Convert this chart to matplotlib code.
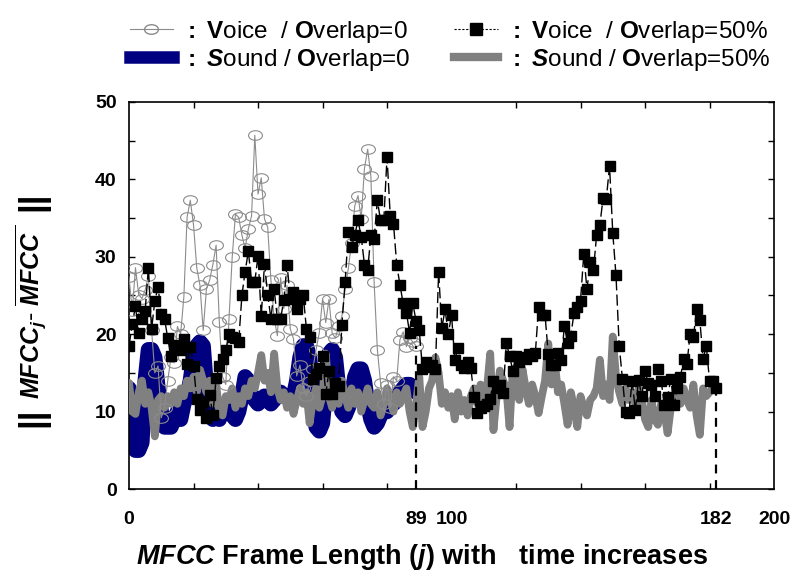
"""
MFCC distance per frame: voice vs sound, overlap 0 / 50%.
Output: out.png
"""
import matplotlib
matplotlib.use("Agg")
import matplotlib.pyplot as plt
from matplotlib.path import Path
from matplotlib.transforms import Affine2D
from matplotlib.lines import Line2D

plt.rcParams["font.family"] = ["Liberation Sans", "DejaVu Sans"]
plt.rcParams["mathtext.fontset"] = "custom"
plt.rcParams["mathtext.rm"] = "Liberation Sans:bold"
plt.rcParams["mathtext.it"] = "Liberation Sans:italic:bold"
plt.rcParams["mathtext.bf"] = "Liberation Sans:bold"
plt.rcParams["mathtext.bfit"] = "Liberation Sans:italic:bold"

# frames 0..89, overlap = 0
voice_ov0 = [
    27.4, 23.0, 28.6, 25.1, 24.6, 25.7, 27.5, 20.5, 15.0, 15.9,
    9.2, 10.5, 14.0, 17.0, 16.3, 21.0, 20.0, 24.8, 35.1, 37.3,
    34.1, 28.6, 26.3, 20.5, 25.8, 27.0, 29.0, 31.5, 21.6, 14.5,
    13.5, 22.0, 30.0, 35.5, 35.1, 32.8, 31.1, 33.6, 35.3, 45.7,
    38.1, 40.2, 34.9, 33.8, 27.0, 22.0, 19.8, 27.3, 23.3, 26.3,
    20.7, 19.4, 14.6, 16.0, 13.0, 12.0, 14.0, 15.5, 18.0, 20.2,
    24.5, 21.5, 24.5, 20.1, 19.5, 21.0, 22.3, 25.9, 28.5, 31.8,
    36.6, 37.9, 34.9, 41.4, 43.9, 40.4, 26.7, 18.0, 13.7, 11.0,
    13.5, 10.5, 14.5, 14.0, 19.3, 20.3, 18.4, 19.5, 19.0, 18.5,
]
sound_ov0 = [
    13, 9, 5, 5, 6, 14, 18, 18, 17, 13,
    10, 8, 8, 8, 9, 10, 9, 11, 12, 14,
    17, 18.5, 19, 18.5, 13, 10, 9, 9.5, 9, 10.5,
    11, 10.5, 9.5, 9, 10, 12, 14.5, 14, 12, 11.5,
    11, 11.5, 12, 11.5, 11, 11.5, 12, 12.5, 12, 12,
    11.5, 12, 14, 17, 18.5, 18.5, 17, 12, 8, 7.5,
    8.5, 13, 17.5, 18, 17, 13, 10, 9.5, 10.5, 12,
    14.5, 15.5, 15.5, 14, 11, 9, 8, 8.5, 9.5, 10.5,
    10, 11, 11, 11.5, 12.5, 13, 13.5, 13.5, 13, 12.5,
]

# frames 0..182, overlap = 50%
voice_ov50 = [
    18.5, 21.3, 23.6, 20.1, 22.0, 23.0, 28.6, 20.7, 24.3, 26.1,
    22.6, 22.0, 19.5, 17.2, 18.6, 18.4, 18.0, 19.4, 16.1, 18.4,
    15.9, 11.6, 10.2, 11.3, 9.2, 12.1, 9.6, 14.3, 15.9, 16.8,
    18.0, 20.0, 19.7, 19.5, 19.0, 25.0, 28.1, 30.7, 26.8, 26.8,
    30.1, 22.3, 29.1, 25.1, 22.0, 25.8, 22.0, 22.0, 24.4, 29.0,
    24.6, 25.5, 23.2, 24.6, 25.1, 20.7, 19.7, 14.2, 14.9, 15.6,
    17.2, 12.3, 15.2, 12.3, 13.7, 13.3, 21.2, 26.7, 33.2, 31.3,
    32.8, 34.7, 32.6, 29.0, 28.3, 32.8, 32.3, 37.3, 34.7, 34.7,
    42.9, 35.3, 34.3, 29.0, 26.4, 24.0, 22.8, 20.2, 24.0, 21.7,
    20.5, 15.5, 16.4, 15.8, 16.0, 15.5, 28.0, 20.8, 23.2, 20.0,
    22.5, 16.7, 18.2, 16.0, 15.6, 16.4, 15.6, 11.9, 9.8, 10.5,
    10.7, 11.0, 11.6, 14.0, 13.0, 13.5, 12.4, 18.9, 17.2, 15.3,
    17.2, 16.4, 17.0, 16.8, 17.4, 17.2, 17.6, 23.5, 22.5, 22.5,
    17.4, 16.0, 16.0, 17.6, 16.7, 21.0, 18.9, 19.8, 22.8, 23.5,
    24.3, 30.3, 25.8, 29.3, 28.3, 32.8, 34.1, 37.6, 37.5, 41.7,
    33.1, 27.6, 18.5, 14.2, 9.9, 9.8, 14.0, 10.2, 14.1, 12.0,
    15.2, 13.7, 13.5, 12.0, 15.5, 14.0, 10.8, 11.9, 14.2, 10.8,
    13.0, 14.5, 16.8, 16.2, 20.0, 19.6, 23.2, 21.8, 16.8, 18.5,
    14.0, 14.0, 13.1,
]
sound_ov50 = [
    13.7, 10, 9.7, 12.5, 14, 11, 12.5, 10.5, 6.8, 11.5,
    12, 10.5, 12, 11, 12.5, 11, 13, 12, 14, 13,
    14.5, 12.5, 15.4, 14, 12.5, 14, 11, 13.5, 10, 9.5,
    12, 11.5, 13, 10.5, 12, 11, 13, 12, 14, 13,
    15, 17.3, 14, 15, 12.5, 17.5, 13, 11.5, 12.5, 10.5,
    12, 9.7, 11.5, 13, 11, 12.5, 8.5, 11.5, 13, 10.5,
    12, 17.5, 12, 10.5, 12.5, 11, 14, 12, 10.5, 13,
    11, 12.5, 10, 11.5, 13, 11, 10.5, 12.5, 9.5, 11,
    13, 11.5, 10, 12.5, 11, 12, 13, 10, 8, 11,
    14.5, 8, 10, 13, 14, 17, 15, 11, 12.5, 10.5,
    12, 9, 12.5, 10, 11.5, 9.5, 12, 13, 11, 13.5,
    11.5, 13, 17.5, 7.6, 12, 15.3, 14, 13, 8, 15.5,
    13, 11.5, 15.5, 13, 11, 13.5, 12, 9.8, 12, 14,
    18.8, 13.5, 16.5, 12.5, 13.5, 11, 8.3, 12.5, 10.5, 8,
    12, 10.5, 9.5, 11.5, 12, 13, 16.7, 12, 13.5, 11.5,
    19.7, 14.5, 12.5, 11, 13, 11.5, 12.5, 11, 13, 11.5,
    9, 8, 11.5, 9, 8.3, 11, 10, 7.2, 10.5, 11.5,
    12, 11, 13, 11.5, 10.5, 13.5, 9.5, 7, 13, 12,
    12.5, 13, 13,
]

x_ticks = [0, 89, 100, 182, 200]
y_ticks = [0, 10, 20, 30, 40, 50]
legend_labels = [
    r"$\mathbf{{:}}$ $\mathbf{V}$oice  / $\mathbf{O}$verlap=0",
    r"$\mathbf{{:}}$ $\mathbfit{S}$ound / $\mathbf{O}$verlap=0",
    r"$\mathbf{{:}}$ $\mathbf{V}$oice  / $\mathbf{O}$verlap=50%",
    r"$\mathbf{{:}}$ $\mathbfit{S}$ound / $\mathbf{O}$verlap=50%",
]

NAVY = "#000080"
GRAY = "#808080"

x0 = list(range(len(voice_ov0)))
x50 = list(range(len(voice_ov50)))

# flattened circle, as in the original
ellipse = Path.unit_circle().transformed(Affine2D().scale(1.45, 1.0))

W, H = 795, 572
fig = plt.figure(figsize=(W / 100, H / 100), dpi=100)
ax = fig.add_axes([0.1623, 0.1451, 0.8113, 0.6766])

ax.plot(x0, sound_ov0, color=NAVY, lw=11, solid_capstyle="round",
        solid_joinstyle="round", zorder=2)
ax.plot(x50, sound_ov50, color=GRAY, lw=5.6, solid_capstyle="round",
        solid_joinstyle="round", zorder=3)
ax.plot(x0, voice_ov0, color="#8c8c8c", lw=0.8, marker=ellipse, ms=10,
        mfc="none", mec="#8c8c8c", mew=0.8, zorder=4)
ax.plot(x50, voice_ov50, color="black", lw=1.0, ls=(0, (8, 3)),
        marker="s", ms=6.5, mfc="black", mec="black", zorder=5)

# frame boundaries
ax.vlines([89], 0, voice_ov0[89], colors="black", linestyles=(0, (4, 3)), lw=1.6, zorder=6)
ax.vlines([182], 0, voice_ov50[182], colors="black", linestyles=(0, (4, 3)), lw=1.6, zorder=6)

ax.set_xlim(0, 200)
ax.set_ylim(0, 50)
ax.set_xticks(x_ticks)
ax.set_xticks(range(0, 201, 20), minor=True)
ax.set_yticks(y_ticks)
ax.set_yticks(range(0, 51, 5), minor=True)
ax.tick_params(which="both", direction="in", top=True, right=True,
               length=4, width=1.0)
ax.tick_params(axis="x", which="major", length=0, pad=16, labelsize=14)
ax.tick_params(axis="y", which="major", pad=9, labelsize=14)
for lab in ax.get_xticklabels() + ax.get_yticklabels():
    lab.set_fontweight("bold")
for sp in ax.spines.values():
    sp.set_linewidth(1.2)

ax.set_xlabel(r"$\mathbfit{MFCC}$ Frame Length ($\mathbfit{j}$) with   time increases",
              fontsize=19.5, fontweight="bold")
ax.xaxis.set_label_coords(0.455, -0.138)

# y label: tall norm bars around MFCC_j - mean(MFCC)
fig.text(33 / W, 1 - 201 / H, "||", rotation=90, fontsize=25, fontweight="bold",
         ha="center", va="center")
fig.text(33 / W, 1 - 417 / H, "||", rotation=90, fontsize=25, fontweight="bold",
         ha="center", va="center")
fig.text(31 / W, 1 - 312 / H,
         r"$\mathbfit{MFCC}_{\mathbfit{j}}$- $\overline{\mathbfit{MFCC}\ }$",
         rotation=90, fontsize=18, ha="center", va="center")

handles = [
    Line2D([], [], color="#8c8c8c", lw=0.8, marker=ellipse, ms=10,
           mfc="none", mec="#8c8c8c"),
    Line2D([], [], color=NAVY, lw=9),
    Line2D([], [], color="black", lw=0.8, ls=(0, (2, 1.5)), marker="s", ms=8),
    Line2D([], [], color=GRAY, lw=6),
]
fig.legend(handles, legend_labels, ncol=2, loc="center",
           bbox_to_anchor=(0.566, 0.92), frameon=False, fontsize=17.5,
           handlelength=1.8, handletextpad=0.4, columnspacing=1.8,
           labelspacing=0.1, borderpad=0)

fig.savefig("out.png", dpi=100)
